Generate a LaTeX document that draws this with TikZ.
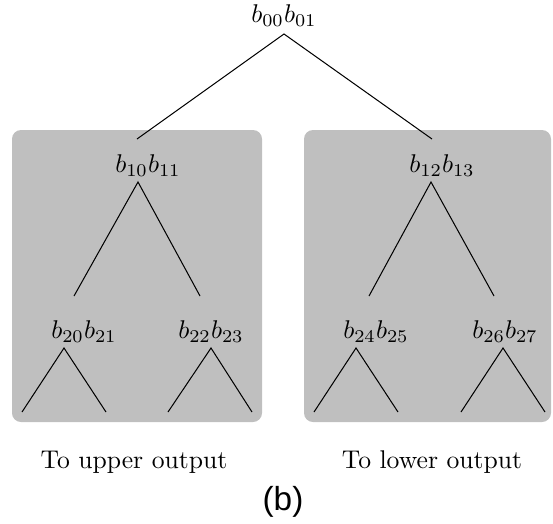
\documentclass[tikz,border=0pt]{standalone}
\usepackage{fontspec}
\newfontfamily\capfont{Liberation Sans}
\usetikzlibrary{positioning}
\tikzset{
	subtree/.style={fill=black!25, rounded corners=3.5pt},
	branch/.style={line width=0.4pt},
	bits/.style={inner sep=0pt},
}

\begin{document}
\begin{tikzpicture}[x=0.39pt, y=-0.39pt]
	\useasboundingbox (0,0) rectangle (553,523);
	\fill[subtree] (12,130) rectangle (262,422);
	\fill[subtree] (304,130) rectangle (551,422);
	% root
	\node[bits] (b0) at (284,16) {$b_{00}b_{01}$};
	\coordinate (a0) at (284,34);
	\coordinate (a1) at (137,139);
	\coordinate (a2) at (432,139);
	\draw[branch] (a1) -- (a0) -- (a2);
	% upper half
	\node[bits] (b10) at (148,166) {$b_{10}b_{11}$};
	\coordinate (a10) at (138,182);
	\coordinate (e10) at (74,296);
	\coordinate (e11) at (200,296);
	\draw[branch] (e10) -- (a10) -- (e11);
	\node[bits] (b20) at (84,332) {$b_{20}b_{21}$};
	\coordinate (a20) at (64,348);
	\coordinate (e20) at (22,412);
	\coordinate (e21) at (106,412);
	\draw[branch] (e20) -- (a20) -- (e21);
	\node[bits] (b22) at (211,332) {$b_{22}b_{23}$};
	\coordinate (a22) at (211,348);
	\coordinate (e22) at (168,412);
	\coordinate (e23) at (252,412);
	\draw[branch] (e22) -- (a22) -- (e23);
	% lower half
	\node[bits] (b12) at (442,166) {$b_{12}b_{13}$};
	\coordinate (a12) at (431,182);
	\coordinate (e12) at (369,296);
	\coordinate (e13) at (494,296);
	\draw[branch] (e12) -- (a12) -- (e13);
	\node[bits] (b24) at (376,332) {$b_{24}b_{25}$};
	\coordinate (a24) at (356,348);
	\coordinate (e24) at (314,412);
	\coordinate (e25) at (398,412);
	\draw[branch] (e24) -- (a24) -- (e25);
	\node[bits] (b26) at (505,332) {$b_{26}b_{27}$};
	\coordinate (a26) at (503,348);
	\coordinate (e26) at (461,412);
	\coordinate (e27) at (545,412);
	\draw[branch] (e26) -- (a26) -- (e27);
	% labels
	\node[anchor=base] (up) at (134,468) {To upper output};
	\node[anchor=base] (lo) at (432,468) {To lower output};
	\node[anchor=base, font=\capfont\fontsize{13}{15}\selectfont] (cap) at (283,510) {(b)};
\end{tikzpicture}
\end{document}
